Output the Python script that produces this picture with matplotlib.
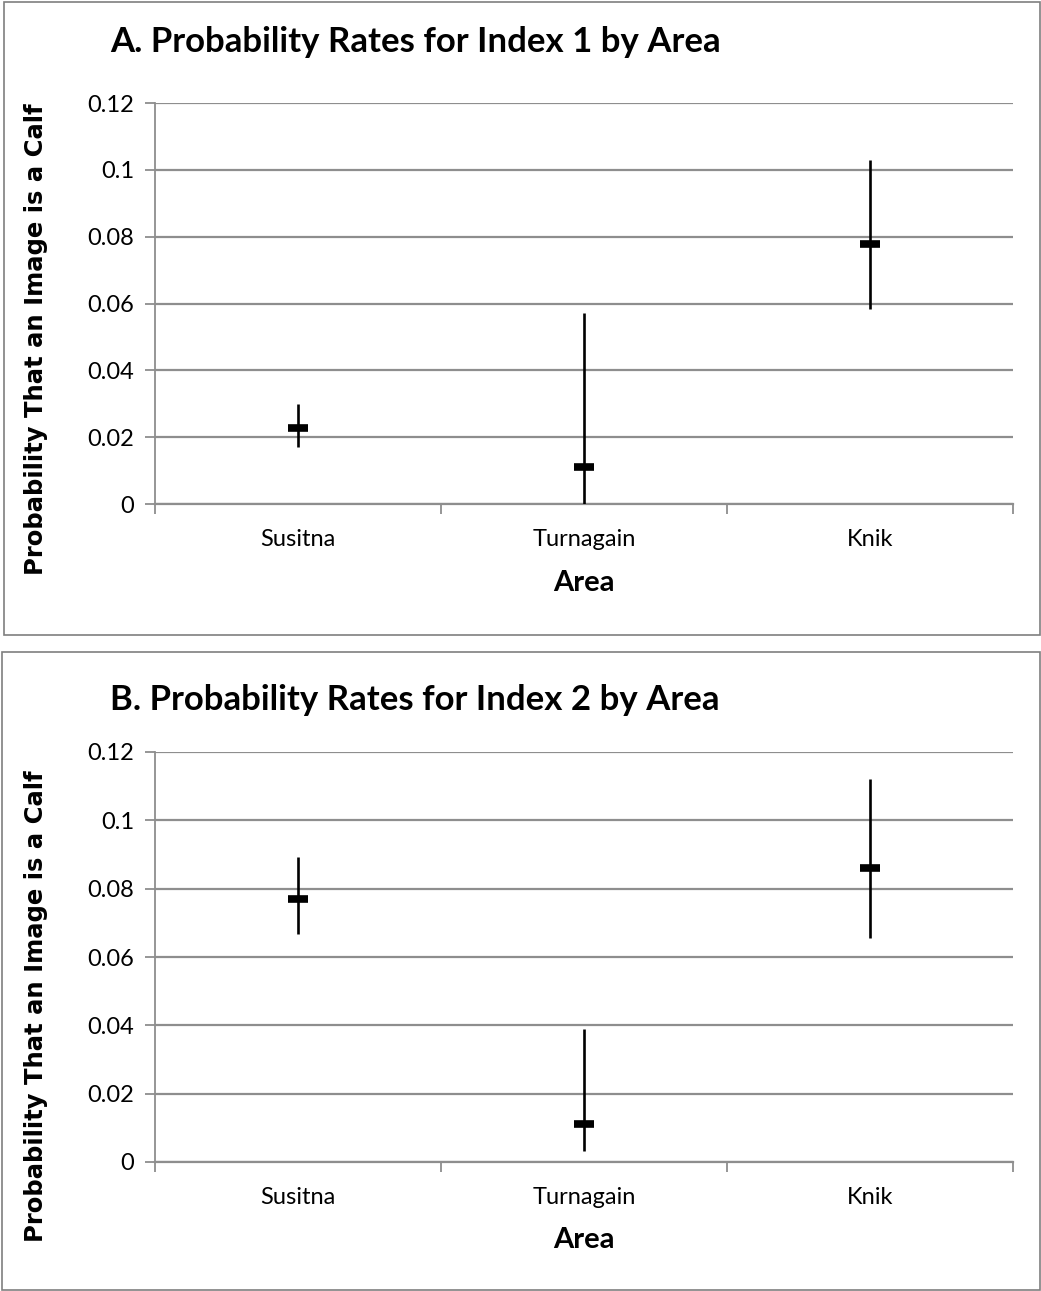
import matplotlib.pyplot as plt
from matplotlib.patches import Rectangle

areas = ['Susitna', 'Turnagain', 'Knik']

# index 1: median with upper / lower bounds
index1_mid = [0.0227, 0.0112, 0.0777]
index1_high = [0.0299, 0.0571, 0.1030]
index1_low = [0.0172, 0.0, 0.0583]

# index 2
index2_mid = [0.0771, 0.0111, 0.0860]
index2_high = [0.0892, 0.0388, 0.1120]
index2_low = [0.0666, 0.0032, 0.0655]

y_ticks = [0, 0.02, 0.04, 0.06, 0.08, 0.1, 0.12]
y_tick_labels = ['0', '0.02', '0.04', '0.06', '0.08', '0.1', '0.12']

W, H = 1041, 1291
fig = plt.figure(figsize=(W / 100, H / 100), dpi=100)

label_font = 'Lato'
grid_col = '#8e8e8e'


def px_axes(left, top, right, bottom):
    return fig.add_axes([left / W, 1 - bottom / H, (right - left) / W, (bottom - top) / H])


def draw_panel(ax, title, mid, high, low, title_y, ylab_y, xlab_y):
    x = list(range(len(areas)))
    for i in x:
        ax.plot([i, i], [low[i], high[i]], color='black', lw=1.9, solid_capstyle='butt', zorder=3)
    ax.plot(x, mid, linestyle='none', marker='_', markersize=15, markeredgewidth=5.5,
            color='black', zorder=4)

    ax.set_xlim(-0.5, 2.5)
    ax.set_ylim(0, 0.12)
    ax.set_yticks(y_ticks)
    ax.set_yticklabels(y_tick_labels, fontfamily=label_font, fontsize=17)
    ax.set_xticks(x)
    ax.set_xticklabels(areas, fontfamily=label_font, fontsize=17)
    ax.set_xticks([-0.5, 0.5, 1.5, 2.5], minor=True)
    ax.tick_params(axis='x', which='major', length=0, pad=18)
    ax.tick_params(axis='x', which='minor', length=7, width=1.3, color=grid_col, direction='out')
    ax.tick_params(axis='y', length=7, width=1.3, color=grid_col, direction='out', pad=8)

    ax.grid(axis='y', color=grid_col, lw=1.6)
    ax.set_axisbelow(True)
    for s in ['top', 'right']:
        ax.spines[s].set_visible(False)
    ax.spines['left'].set_color(grid_col)
    ax.spines['bottom'].set_color(grid_col)
    ax.spines['left'].set_linewidth(1.3)
    ax.spines['bottom'].set_linewidth(1.6)

    ax.set_xlabel('Area', fontfamily=label_font, fontsize=21, fontweight='bold', va='center')
    ax.xaxis.set_label_coords(0.5, xlab_y)
    ax.set_ylabel('Probability That an Image is a Calf', fontfamily='DejaVu Sans',
                  fontsize=17.5, fontweight='bold', va='center')
    ax.yaxis.set_label_coords(-0.1387, ylab_y)
    fig.text(110 / W, 1 - title_y / H, title, fontfamily=label_font, fontsize=25,
             fontweight='bold', ha='left', va='center')


# panel borders
fig.patches.append(Rectangle((4 / W, 1 - 635 / H), 1036 / W, 633 / H, transform=fig.transFigure,
                             fill=False, edgecolor='#7f7f7f', lw=1.2))
fig.patches.append(Rectangle((2 / W, 1 - 1290 / H), 1038 / W, 638 / H, transform=fig.transFigure,
                             fill=False, edgecolor='#7f7f7f', lw=1.2))

ax1 = px_axes(155, 103, 1013, 504)
draw_panel(ax1, 'A. Probability Rates for Index 1 by Area', index1_mid, index1_high, index1_low,
           42, 0.411, -0.197)

ax2 = px_axes(155, 752, 1013, 1162)
draw_panel(ax2, 'B. Probability Rates for Index 2 by Area', index2_mid, index2_high, index2_low,
           700, 0.38, -0.19)

fig.savefig('out.png', dpi=100)
